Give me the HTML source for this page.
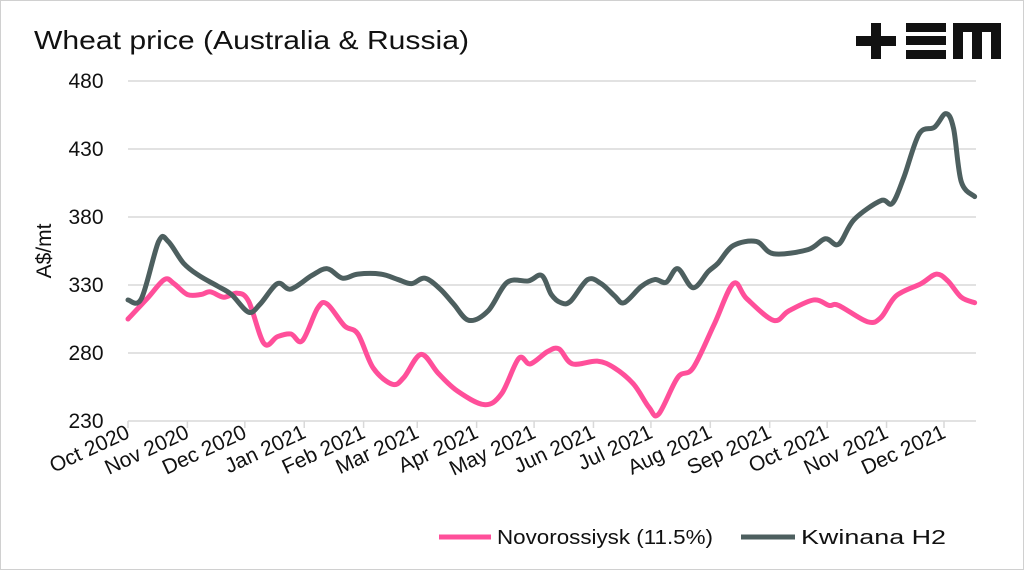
<!DOCTYPE html>
<html><head><meta charset="utf-8"><style>
body{margin:0;background:#fff;}
#wrap{position:relative;width:1024px;height:570px;box-sizing:border-box;border:1px solid #d0d0d0;font-family:"Liberation Sans",sans-serif;}
</style></head><body>
<div id="wrap">
<svg id="chart" width="1024" height="570" style="position:absolute;left:0;top:0">
<text x="33" y="48" font-size="26" textLength="435" lengthAdjust="spacingAndGlyphs" fill="#111" font-family="Liberation Sans, sans-serif">Wheat price (Australia &amp; Russia)</text>
<g fill="#111">
<rect x="855" y="35" width="40" height="10"/><rect x="870" y="22" width="10" height="36"/>
<rect x="905" y="22" width="40" height="9"/><rect x="905" y="35" width="40" height="9"/><rect x="905" y="49" width="40" height="9"/>
<path d="M952 58 V22 H1000 V58 H990 V31 H981 V58 H971 V31 H962 V58 Z"/>
</g>
<text transform="translate(50,250) rotate(-90)" text-anchor="middle" font-size="21" fill="#111">A$/mt</text>
<g id="grid"></g><g id="xaxis"></g><g id="series"></g>
<g>
<line x1="438" y1="536" x2="490" y2="536" stroke="#ff4f9a" stroke-width="5"/>
<text x="496" y="543" font-size="20" textLength="216" lengthAdjust="spacingAndGlyphs" fill="#111">Novorossiysk (11.5%)</text>
<line x1="740" y1="536" x2="794" y2="536" stroke="#4d5f5f" stroke-width="5"/>
<text x="800" y="543" font-size="20" textLength="145" lengthAdjust="spacingAndGlyphs" fill="#111">Kwinana H2</text>
</g>
</svg>
</div>
<script>
const yTicks=[230,280,330,380,430,480];
const monthLabels=["Oct 2020","Nov 2020","Dec 2020","Jan 2021","Feb 2021","Mar 2021","Apr 2021","May 2021","Jun 2021","Jul 2021","Aug 2021","Sep 2021","Oct 2021","Nov 2021","Dec 2021"];
const monthDays=[0,31,61,92,123,151,182,212,243,273,304,335,365,396,426];
const kwDays=[0,7,16,21,29,37,47,54,63,69,78,85,96,104,112,120,132,141,148,155,163,170,178,188,198,209,216,221,226,231,240,247,254,259,268,275,281,287,295,303,308,316,328,337,355,364,371,379,393,399,405,413,421,427,431,435,442];
const kwVals=[319,320,362,362,346,337,329,323,310,316,331,327,337,342,335,338,338,334,331,335,327,316,304,311,332,333,337,323,317,318,334,331,322,317,329,334,332,342,328,340,346,359,362,353,356,364,360,378,392,390,409,441,446,456,445,406,395];
const novDays=[0,10,19,24,31,38,43,50,57,63,71,78,85,91,99,104,113,120,128,138,144,153,162,172,186,195,204,210,219,225,232,245,254,264,272,277,287,295,306,316,323,337,345,358,366,371,386,393,401,414,422,428,435,442];
const novVals=[305,320,334,331,323,323,325,321,324,318,287,292,294,289,313,316,300,294,269,257,262,279,265,252,242,250,276,272,281,283,272,274,269,257,240,235,262,269,301,331,320,304,311,319,315,315,303,306,322,331,338,333,321,317];
const X0=127,X1=943,Y0=420,Y1=80;
const xs=d=>X0+(d-monthDays[0])*(X1-X0)/(monthDays[monthDays.length-1]-monthDays[0]);
const ys=v=>Y0-(v-230)*(Y0-Y1)/(480-230);
const NS="http://www.w3.org/2000/svg";
function mk(t,a,p){const e=document.createElementNS(NS,t);for(const k in a)e.setAttribute(k,a[k]);p.appendChild(e);return e;}
const grid=document.getElementById('grid');
yTicks.forEach(v=>{
 if(v!==230){const l=mk('line',{x1:X0,x2:975,y1:ys(v),y2:ys(v),stroke:'#d9d9d9','stroke-width':1.5},grid);
 
 }
 const t=mk('text',{x:85,y:ys(v)+7,'text-anchor':'middle','font-size':21,fill:'#111'},grid);t.textContent=v;
 
 
});
const xa=document.getElementById('xaxis');
const ax=mk('line',{x1:X0,x2:975,y1:Y0,y2:Y0,stroke:'#d9d9d9','stroke-width':1.5},xa);


monthDays.forEach((d,i)=>{
 const x=xs(d);
 const tk=mk('line',{x1:x,x2:x,y1:Y0,y2:Y0+7,stroke:'#d9d9d9','stroke-width':1.5},xa);
 
 
 const t=mk('text',{transform:`translate(${x+3},${Y0+16}) rotate(-25)`,'text-anchor':'end','font-size':21,fill:'#111'},xa);
 t.textContent=monthLabels[i];
 
 
});
function path(days,vals){
 const p=days.map((d,i)=>[xs(d),ys(vals[i])]);
 let s=`M${p[0][0]},${p[0][1]}`;
 for(let i=0;i<p.length-1;i++){
  const a=p[Math.max(0,i-1)],b=p[i],c=p[i+1],e=p[Math.min(p.length-1,i+2)];
  s+=` C${b[0]+(c[0]-a[0])/6},${b[1]+(c[1]-a[1])/6} ${c[0]-(e[0]-b[0])/6},${c[1]-(e[1]-b[1])/6} ${c[0]},${c[1]}`;
 }
 return s;
}
const sg=document.getElementById('series');
const pn=mk('path',{d:path(novDays,novVals),fill:'none',stroke:'#ff4f9a','stroke-width':5,'stroke-linejoin':'round','stroke-linecap':'round'},sg);


const pk=mk('path',{d:path(kwDays,kwVals),fill:'none',stroke:'#4d5f5f','stroke-width':5,'stroke-linejoin':'round','stroke-linecap':'round'},sg);


</script>
</body></html>
